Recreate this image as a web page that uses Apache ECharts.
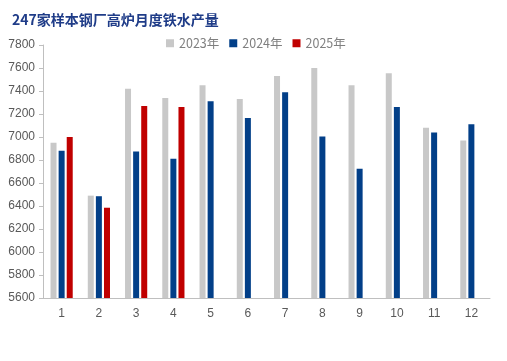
<!DOCTYPE html>
<html><head><meta charset="utf-8">
<script src="https://cdn.jsdelivr.net/npm/echarts@6/dist/echarts.min.js"></script>
<style>html,body{margin:0;padding:0;background:#fff}#c{width:507px;height:361px}</style>
</head><body><div id="c"></div>
<script>
const title = '247家样本钢厂高炉月度铁水产量';
const months = ['1','2','3','4','5','6','7','8','9','10','11','12'];
const seriesNames = ['2023年','2024年','2025年'];
const v2023 = [6950,6490,7420,7340,7450,7330,7530,7600,7450,7555,7080,6970];
const v2024 = [6880,6485,6875,6810,7310,7165,7390,7005,6725,7260,7040,7110];
const v2025 = [7000,6385,7270,7260,null,null,null,null,null,null,null,null];
const yTicks = [5600,7800,200];
const colors = ['#C8C8C8','#023F88','#C00000'];

const chart = echarts.init(document.getElementById('c'), null, {renderer:'canvas'});
const mk = (name, data, color) => ({
  name, type:'bar', data, barWidth:6, barGap:'35%',
  itemStyle:{color}
});
chart.setOption({
  animation:false,
  title:{text:title,left:7,top:8,textStyle:{fontFamily:'Noto Sans CJK SC',fontWeight:'bold',fontSize:14,color:'#1F3C88'}},
  legend:{top:32,left:161,itemWidth:8,itemHeight:8,itemGap:10,icon:'rect',
    textStyle:{color:'#7f7f7f',fontSize:12.5,fontFamily:'Noto Sans CJK SC'},data:seriesNames},
  grid:{left:43,right:17,top:45,bottom:63,containLabel:false},
  xAxis:{type:'category',data:months,
    axisLine:{lineStyle:{color:'#BFBFBF'}},axisTick:{show:false},
    axisLabel:{color:'#595959',fontSize:12,margin:10,fontFamily:'Liberation Sans'}},
  yAxis:{type:'value',min:yTicks[0],max:yTicks[1],interval:yTicks[2],
    axisLine:{show:true,lineStyle:{color:'#BFBFBF'}},
    axisTick:{show:true,inside:false,length:4,lineStyle:{color:'#BFBFBF'}},
    splitLine:{show:false},
    axisLabel:{color:'#595959',fontSize:12,margin:8,fontFamily:'Liberation Sans',formatter:v=>String(v)}},
  series:[mk(seriesNames[0],v2023,colors[0]),mk(seriesNames[1],v2024,colors[1]),mk(seriesNames[2],v2025,colors[2])]
});
</script></body></html>
